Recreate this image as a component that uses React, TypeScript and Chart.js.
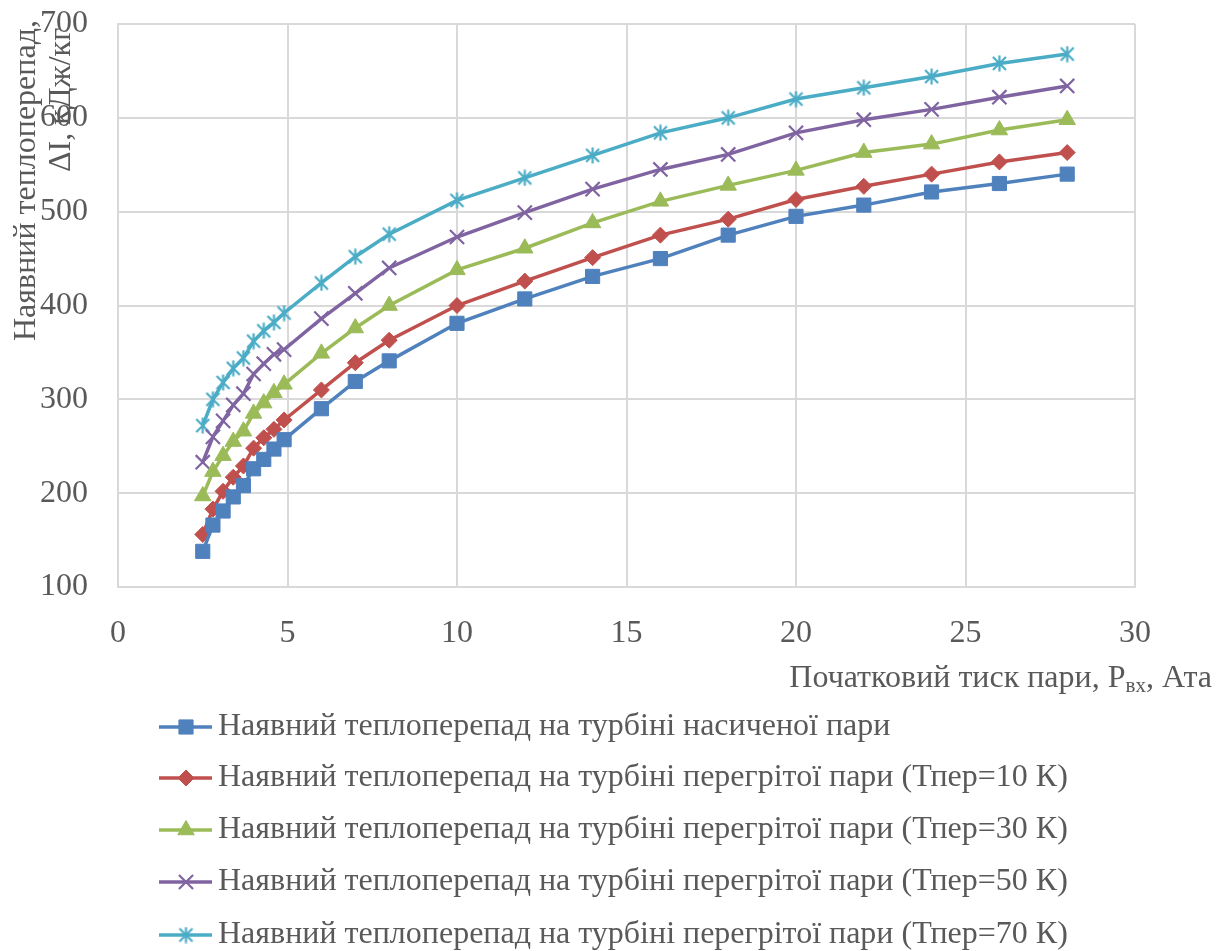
import React, { useEffect, useRef } from "react";
import { Chart, registerables } from "chart.js";

Chart.register(...registerables);

const pressures = [2.5, 2.8, 3.1, 3.4, 3.7, 4.0, 4.3, 4.6, 4.9, 6, 7, 8, 10, 12, 14, 16, 18, 20, 22, 24, 26, 28];
const saturated = [138, 166, 181, 196, 208, 226, 236, 247, 257, 290, 319, 341, 381, 407, 431, 450, 475, 495, 507, 521, 530, 540];
const superheat10 = [156, 183, 202, 217, 229, 248, 259, 268, 278, 310, 339, 363, 400, 426, 451, 475, 492, 513, 527, 540, 553, 563];
const superheat30 = [197, 223, 240, 255, 266, 285, 296, 307, 316, 349, 376, 400, 438, 461, 488, 511, 528, 544, 563, 572, 587, 598];
const superheat50 = [233, 260, 277, 294, 306, 327, 338, 348, 353, 386, 413, 440, 473, 499, 524, 545, 561, 584, 598, 609, 622, 634];
const superheat70 = [272, 300, 318, 333, 344, 362, 373, 382, 392, 424, 452, 476, 512, 536, 560, 584, 600, 620, 632, 644, 658, 668];

const seriesLabels = [
  "Наявний теплоперепад на турбіні насиченої пари",
  "Наявний теплоперепад на турбіні перегрітої пари (Тпер=10 К)",
  "Наявний теплоперепад на турбіні перегрітої пари (Тпер=30 К)",
  "Наявний теплоперепад на турбіні перегрітої пари (Тпер=50 К)",
  "Наявний теплоперепад на турбіні перегрітої пари (Тпер=70 К)",
];
const xTitleMain = "Початковий тиск пари, P";
const xTitleSub = "вх";
const xTitleEnd = ", Ата";
const yTitleLine1 = "Наявний теплоперепад,";
const yTitleLine2 = "ΔI, кДж/кг";

const xTicks = { min: 0, max: 30, step: 5 };
const yTicks = { min: 100, max: 700, step: 100 };

const FONT = "'Liberation Serif', 'Times New Roman', serif";
const TEXT = "#595959";
const GRID = "#d9d9d9";
const FS = 32;

function makeStar(color: string): HTMLCanvasElement {
  const c = document.createElement("canvas");
  c.width = 17;
  c.height = 17;
  const g = c.getContext("2d")!;
  g.strokeStyle = color;
  g.lineWidth = 2.2;
  g.beginPath();
  g.moveTo(2, 2); g.lineTo(15, 15);
  g.moveTo(15, 2); g.lineTo(2, 15);
  g.moveTo(8.5, 0.5); g.lineTo(8.5, 16.5);
  g.stroke();
  return c;
}

function drawMarker(ctx: CanvasRenderingContext2D, style: string, x: number, y: number, r: number, color: string, bw: number) {
  ctx.save();
  ctx.fillStyle = color;
  ctx.strokeStyle = color;
  ctx.lineWidth = bw;
  ctx.beginPath();
  if (style === "rect") {
    const s = Math.SQRT1_2 * r;
    ctx.rect(x - s, y - s, 2 * s, 2 * s);
    ctx.fill();
    ctx.stroke();
  } else if (style === "rectRot") {
    ctx.moveTo(x - r, y);
    ctx.lineTo(x, y - r);
    ctx.lineTo(x + r, y);
    ctx.lineTo(x, y + r);
    ctx.closePath();
    ctx.fill();
    ctx.stroke();
  } else if (style === "triangle") {
    const a = (2 * Math.PI) / 3;
    ctx.moveTo(x, y - r);
    ctx.lineTo(x + Math.sin(a) * r, y - Math.cos(a) * r);
    ctx.lineTo(x + Math.sin(2 * a) * r, y - Math.cos(2 * a) * r);
    ctx.closePath();
    ctx.fill();
    ctx.stroke();
  } else if (style === "crossRot") {
    const d = Math.SQRT1_2 * r;
    ctx.moveTo(x - d, y - d); ctx.lineTo(x + d, y + d);
    ctx.moveTo(x + d, y - d); ctx.lineTo(x - d, y + d);
    ctx.stroke();
  }
  ctx.restore();
}

export default function App() {
  const ref = useRef<HTMLCanvasElement | null>(null);

  useEffect(() => {
    const canvas = ref.current!;
    const star = makeStar("#4bacc6");
    const styles = [
      { color: "#4f81bd", point: "rect", radius: 10, bw: 1 },
      { color: "#c0504d", point: "rectRot", radius: 8, bw: 1 },
      { color: "#9bbb59", point: "triangle", radius: 9.5, bw: 1 },
      { color: "#8064a2", point: "crossRot", radius: 10, bw: 2.2 },
      { color: "#4bacc6", point: star as any, radius: 8, bw: 2 },
    ];
    const values = [saturated, superheat10, superheat30, superheat50, superheat70];
    const datasets = values.map((v, i) => ({
      label: seriesLabels[i],
      data: v.map((y, j) => ({ x: pressures[j], y })),
      borderColor: styles[i].color,
      backgroundColor: styles[i].color,
      borderWidth: 3.5,
      pointStyle: styles[i].point,
      pointRadius: styles[i].radius,
      pointBorderWidth: styles[i].bw,
      pointBackgroundColor: styles[i].color,
      pointBorderColor: styles[i].color,
      tension: 0,
    }));

    const decor = {
      id: "decor",
      afterDraw(chart: any) {
        const ctx = chart.ctx;
        ctx.save();
        ctx.fillStyle = TEXT;
        // y title (rotated)
        ctx.font = `${FS}px ${FONT}`;
        ctx.textBaseline = "alphabetic";
        ctx.textAlign = "left";
        ctx.save();
        ctx.translate(35, 341);
        ctx.rotate(-Math.PI / 2);
        ctx.fillText(yTitleLine1, 0, 0);
        ctx.restore();
        ctx.save();
        ctx.translate(70, 172);
        ctx.rotate(-Math.PI / 2);
        ctx.fillText(yTitleLine2, 0, 0);
        ctx.restore();

        // x title (right aligned, with subscript)
        const big = `${FS}px ${FONT}`;
        const small = `21px ${FONT}`;
        ctx.font = big;
        const w1 = ctx.measureText(xTitleMain).width;
        const w3 = ctx.measureText(xTitleEnd).width;
        ctx.font = small;
        const w2 = ctx.measureText(xTitleSub).width;
        const right = 1212;
        const base = 687;
        let x = right - (w1 + w2 + w3);
        ctx.font = big;
        ctx.fillText(xTitleMain, x, base);
        x += w1;
        ctx.font = small;
        ctx.fillText(xTitleSub, x, base + 5);
        x += w2;
        ctx.font = big;
        ctx.fillText(xTitleEnd, x, base);

        // legend
        const rows = [727, 778, 830, 882, 935];
        chart.data.datasets.forEach((ds: any, i: number) => {
          const y = rows[i];
          ctx.strokeStyle = ds.borderColor;
          ctx.lineWidth = 3.5;
          ctx.beginPath();
          ctx.moveTo(159, y);
          ctx.lineTo(212, y);
          ctx.stroke();
          const style = ds.pointStyle;
          if (style instanceof HTMLCanvasElement) {
            ctx.drawImage(style, 186 - style.width / 2, y - style.height / 2);
          } else {
            drawMarker(ctx, style, 186, y, ds.pointRadius, ds.borderColor, ds.pointBorderWidth);
          }
          ctx.fillStyle = TEXT;
          ctx.font = `${FS}px ${FONT}`;
          ctx.textBaseline = "middle";
          ctx.fillText(ds.label, 218, y);
          ctx.textBaseline = "alphabetic";
        });
        ctx.restore();
      },
    };

    const zeroPad = (s: any) => {
      s.paddingTop = 0;
      s.paddingBottom = 0;
      s.paddingLeft = 0;
      s.paddingRight = 0;
    };

    const chart = new Chart(canvas, {
      type: "line",
      data: { datasets: datasets as any },
      options: {
        responsive: false,
        animation: false,
        layout: { padding: { left: 0, top: 24, right: 88, bottom: 0 } },
        plugins: { legend: { display: false }, tooltip: { enabled: false } },
        scales: {
          x: {
            type: "linear",
            min: xTicks.min,
            max: xTicks.max,
            ticks: { stepSize: xTicks.step, color: TEXT, font: { family: FONT, size: FS }, padding: 27, maxRotation: 0 },
            grid: { color: GRID, lineWidth: 2, drawTicks: false },
            border: { color: GRID, width: 2 },
            afterFit: (s: any) => { s.height = 951 - 587; zeroPad(s); },
          },
          y: {
            min: yTicks.min,
            max: yTicks.max,
            ticks: { stepSize: yTicks.step, color: TEXT, font: { family: FONT, size: FS }, padding: 30 },
            grid: { color: GRID, lineWidth: 2, drawTicks: false },
            border: { color: GRID, width: 2 },
            afterFit: (s: any) => { s.width = 118; zeroPad(s); },
          },
        },
      },
      plugins: [decor],
    });
    return () => chart.destroy();
  }, []);

  return (
    <div style={{ position: "absolute", left: 0, top: 0, width: 1223, height: 951, background: "#fff" }}>
      <canvas ref={ref} width={1223} height={951} style={{ width: 1223, height: 951, display: "block" }} />
    </div>
  );
}
